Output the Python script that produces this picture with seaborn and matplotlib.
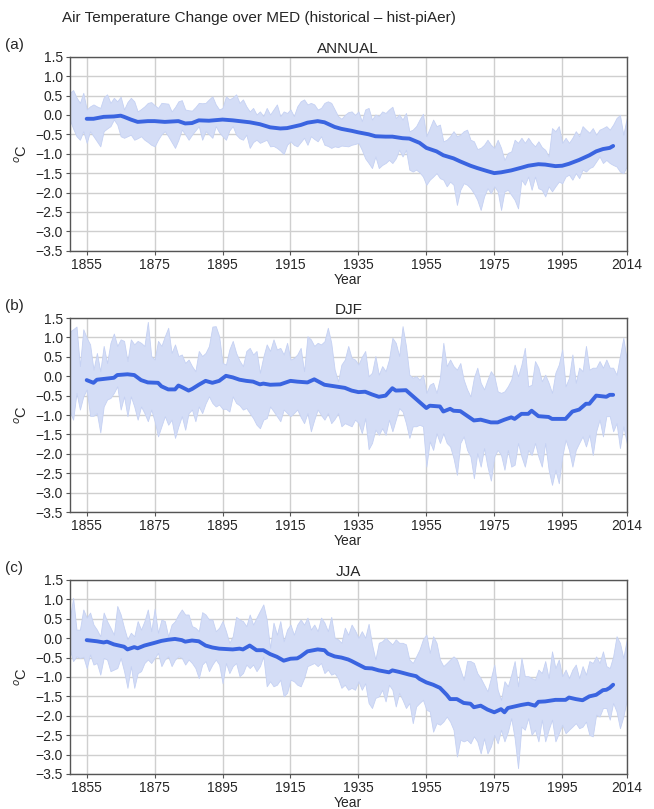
import numpy as np
import pandas as pd
import matplotlib
matplotlib.use("Agg")
import matplotlib.pyplot as plt
import seaborn as sns

# ---- data ----
band_years = np.arange(1850, 2015)

annual_upper = [
    0.57, 0.64, 0.45, 0.31, 0.57, 0.14, 0.22, 0.27, 0.22, 0.18,
    0.45, 0.53, 0.31, 0.44, 0.35, 0.47, 0.14, 0.33, 0.44, 0.35,
    0.09, 0.15, 0.22, 0.31, 0.33, 0.25, 0.18, 0.31, 0.30, 0.29,
    0.09, 0.20, 0.35, 0.38, 0.14, 0.12, 0.11, 0.20, 0.31, 0.30,
    0.31, 0.40, 0.48, 0.27, 0.14, 0.18, 0.48, 0.40, 0.45, 0.53,
    0.31, 0.40, 0.22, 0.09, 0.18, 0.01, 0.09, -0.03, 0.18, 0.01,
    0.14, 0.27, -0.03, 0.09, 0.05, 0.14, -0.03, 0.22, 0.35, 0.40,
    0.27, 0.31, 0.27, 0.14, 0.18, 0.31, 0.35, 0.31, 0.14, -0.03,
    -0.10, 0.0, 0.07, 0.09, 0.0,
    0.09, -0.16, 0.14, 0.18, -0.12, 0.01, -0.03, 0.09, 0.05, 0.14,
    0.21, -0.08, 0.01, -0.12, 0.05, -0.42, -0.38, -0.29, -0.12, 0.03,
    -0.55, -0.34, -0.12, -0.29, -0.25, -0.68, -0.64, -0.55, -0.42, -0.55,
    -0.51, -0.42, -0.38, -0.64, -0.68, -0.88, -0.85, -0.77, -0.64, -0.77,
    -0.85, -0.64, -0.85, -1.16, -0.98, -0.94, -0.64, -0.72, -0.59, -0.72,
    -0.59, -0.72, -0.81, -0.68, -0.83, -0.90, -1.07, -0.34, -0.42, -0.29,
    -0.72, -0.59, -0.72, -0.59, -0.42, -0.55, -0.29, -0.38, -0.46, -0.34,
    -0.51, -0.38, -0.34, -0.29, -0.38, -0.25, -0.08, 0.0, -0.51, -0.08,
]
annual_lower = [
    -0.12, -0.35, -0.55, -0.64, -0.42, -0.72, -0.42, -0.55, -0.68, -0.81,
    -0.42, -0.35, -0.29, -0.12, -0.25, -0.55, -0.59, -0.55, -0.51, -0.64,
    -0.60, -0.55, -0.64, -0.70, -0.77, -0.81, -0.64, -0.50, -0.42, -0.55,
    -0.70, -0.85, -0.64, -0.38, -0.50, -0.64, -0.51, -0.40, -0.29, -0.64,
    -0.42, -0.50, -0.59, -0.29, -0.45, -0.55, -0.64, -0.40, -0.29, -0.51,
    -0.60, -0.64, -0.51, -0.85, -0.70, -0.64, -0.72, -0.68, -0.64, -0.81,
    -0.80, -0.85, -0.92, -1.01, -0.77, -0.68, -0.77, -0.81, -0.70, -0.59,
    -0.77, -0.55, -0.62, -0.68, -0.55, -0.77, -0.80, -0.85, -0.81, -0.83,
    -0.79, -0.80, -0.81, -0.77, -0.75,
    -0.72, -0.90, -1.12, -1.24, -1.37, -1.07, -1.37, -1.29, -1.24, -1.16,
    -1.24, -1.12, -0.90, -1.07, -0.90, -1.41, -1.46, -1.41, -1.48, -1.59,
    -1.80, -1.67, -1.59, -1.50, -1.63, -1.67, -1.84, -1.72, -1.80, -2.32,
    -1.93, -1.76, -1.80, -1.89, -2.02, -2.19, -2.45, -2.10, -1.89, -2.02,
    -1.84, -1.97, -2.45, -1.97, -1.93, -2.06, -2.19, -2.41, -1.67, -1.80,
    -1.59, -1.93, -1.59, -1.89, -1.93, -2.10, -1.84, -1.97, -1.84, -1.72,
    -1.76, -1.59, -1.54, -1.67, -1.50, -1.63, -1.41, -1.46, -1.37, -1.33,
    -1.20, -1.07, -1.24, -1.16, -1.24, -1.29, -1.33, -1.46, -1.50, -1.33,
]
annual_line_years = [
    1855, 1857, 1860, 1863, 1865, 1866, 1868, 1870, 1873, 1875, 1878, 1880,
    1882, 1884, 1886, 1888, 1891, 1895, 1898, 1900, 1903, 1906, 1909, 1912,
    1914, 1916, 1918, 1920, 1923, 1925, 1928, 1930, 1933, 1935, 1938, 1940,
    1943, 1945, 1948, 1950, 1953, 1955, 1958, 1960, 1963, 1965, 1968, 1970,
    1973, 1975, 1977, 1980, 1983, 1985, 1988, 1990, 1993, 1995, 1997, 2000,
    2003, 2005, 2007, 2009, 2010,
]
annual_line = [
    -0.10, -0.10, -0.05, -0.04, -0.02, -0.05, -0.12, -0.18, -0.16, -0.16, -0.18, -0.17,
    -0.16, -0.22, -0.21, -0.14, -0.15, -0.12, -0.14, -0.16, -0.19, -0.24, -0.32, -0.35,
    -0.34, -0.30, -0.26, -0.20, -0.16, -0.19, -0.31, -0.36, -0.41, -0.45, -0.50, -0.55,
    -0.56, -0.56, -0.60, -0.61, -0.72, -0.85, -0.94, -1.04, -1.12, -1.20, -1.31, -1.37,
    -1.45, -1.50, -1.48, -1.43, -1.36, -1.31, -1.27, -1.28, -1.32, -1.31, -1.26, -1.16,
    -1.04, -0.94, -0.88, -0.85, -0.80,
]

djf_upper = [
    1.15, 1.21, 1.28, 0.26, 1.21, 0.99, 0.82, 0.17, 0.60, 0.13,
    0.78, 0.34, 0.86, 1.10, 0.78, 0.95, 0.91, 0.39, 0.95, 0.82,
    0.91, 0.86, 0.78, 1.40, 0.52, 0.43, 0.91, 0.78, 1.03, 1.25,
    0.60, 0.82, 0.52, 0.56, 0.34, 0.43, 0.26, 0.13, 0.65, 0.52,
    0.60, 0.78, 1.28, 1.29, 1.03, 0.34, 0.30, 0.69, 0.91, 0.60,
    0.40, 0.26, 0.65, 0.73, 0.56, 0.65, 0.09, 0.50, 0.82, 0.65,
    0.95, 0.69, 0.73, 0.56, 0.86, 0.43, 0.47, 0.56, 0.73, 0.13,
    1.03, 0.95, 0.78, 0.86, 0.82, 0.90, 1.25, 0.86, 0.17, -0.13,
    0.30, 0.43, 0.78, 0.47, 0.43,
    0.30, 0.50, 0.65, 0.0, 0.09, 0.52, 0.04, 0.26, 0.13, 0.43,
    0.99, 0.86, 0.52, 1.29, 0.78, 0.04, -0.04, 0.0, -0.09, 0.04,
    -0.43, -0.22, -0.17, -0.43, -0.04, 0.86, 0.26, 0.43, 0.26, 0.17,
    0.34, -0.09, -0.34, -0.52, -0.04, 0.22, -0.17, -0.34, -0.09, 0.13,
    0.0, -0.39, -0.43, -0.39, -0.26, -0.09, 0.30, 0.0, 0.30,
    0.73, -0.26, -0.22, 0.39, 0.22, -0.13, 0.04, -0.17, -0.43, 0.09,
    0.30, 0.69, -0.26, -0.04, 0.56, -0.17, 0.22, 0.13, 0.78, 0.17,
    0.22, 0.22, 0.39, 0.22, 0.43, 0.22, 0.22, 0.04, 0.52, 0.99, 0.43,
]
djf_lower = [
    -0.90, -1.12, -0.43, -0.86, -0.52, -0.34, -1.02, -1.02, -0.95, -1.45,
    -0.78, -0.60, -0.56, -0.43, -0.26, -0.86, -0.52, -1.03, -0.52, -0.78,
    -1.12, -0.78, -0.95, -1.16, -0.86, -1.16, -1.55, -1.29, -1.03, -1.25,
    -1.12, -1.59, -1.29, -1.03, -1.38, -0.95, -0.86, -1.16, -0.78, -0.95,
    -0.70, -0.52, -0.69, -0.78, -0.73, -0.84, -0.84, -0.91, -0.52, -0.69,
    -0.75, -0.86, -0.82, -0.95, -1.08, -1.25, -1.34, -1.12, -1.08, -0.78,
    -0.90, -1.03, -1.16, -0.86, -0.95, -1.03, -0.95, -0.86, -1.05, -1.21,
    -0.95, -1.42, -1.12, -0.86, -1.00, -1.12, -0.95, -1.21, -1.10, -0.95,
    -1.29, -1.21, -1.25, -1.29, -1.12,
    -1.20, -1.47, -1.08, -1.88, -1.72, -1.38, -1.51, -1.34, -1.51, -1.12,
    -1.42, -1.12, -0.82, -0.91, -1.21, -1.59, -1.29, -1.29, -1.25, -1.29,
    -2.33, -1.68, -1.90, -1.47, -1.72, -1.47, -1.72, -1.81, -2.11, -2.54,
    -1.72, -1.55, -1.90, -2.07, -2.63, -1.98, -2.33, -1.85, -2.33, -2.69,
    -2.07, -1.90, -2.03, -2.41, -1.90, -2.33, -2.28, -1.72, -2.07, -2.33,
    -1.90, -2.03, -1.72, -2.07, -2.33, -1.72, -2.41, -2.80, -2.41, -2.76,
    -2.07, -1.64, -1.90, -2.33, -1.90, -1.72, -1.55, -1.81, -1.51, -2.03,
    -1.42, -1.12, -1.55, -1.03, -1.03, -1.42, -1.21, -1.85, -1.29, -1.72,
]
djf_line_years = [
    1855, 1857, 1858, 1860, 1863, 1864, 1867, 1869, 1871, 1873, 1876, 1877,
    1879, 1881, 1882, 1883, 1885, 1886, 1888, 1890, 1892, 1894, 1896, 1898,
    1900, 1902, 1904, 1906, 1907, 1909, 1912, 1915, 1917, 1920, 1922, 1925,
    1928, 1931, 1933, 1935, 1937, 1939, 1941, 1943, 1945, 1946, 1949, 1952,
    1955, 1956, 1959, 1960, 1962, 1963, 1965, 1967, 1969, 1971, 1974, 1976,
    1978, 1980, 1981, 1983, 1985, 1986, 1988, 1991, 1992, 1996, 1998, 2000,
    2002, 2003, 2005, 2008, 2009, 2010,
]
djf_line = [
    -0.10, -0.17, -0.09, -0.07, -0.04, 0.03, 0.05, 0.03, -0.10, -0.16, -0.17, -0.26,
    -0.34, -0.34, -0.24, -0.28, -0.37, -0.33, -0.22, -0.12, -0.17, -0.12, 0.01, -0.03,
    -0.09, -0.12, -0.14, -0.21, -0.19, -0.22, -0.21, -0.12, -0.14, -0.16, -0.08, -0.22,
    -0.26, -0.30, -0.37, -0.41, -0.40, -0.47, -0.53, -0.50, -0.31, -0.37, -0.36, -0.59,
    -0.82, -0.76, -0.78, -0.91, -0.84, -0.89, -0.90, -1.02, -1.14, -1.12, -1.19, -1.19,
    -1.12, -1.06, -1.10, -0.97, -0.97, -0.89, -1.03, -1.05, -1.10, -1.10, -0.91, -0.86,
    -0.71, -0.71, -0.50, -0.53, -0.48, -0.48,
]

jja_upper = [
    0.48, 1.04, 0.22, 0.22, 0.74, 0.53, 0.66, 0.35, 0.22, 0.05,
    0.66, 0.44, 0.27, 0.09, 0.83, 0.61, 0.27, -0.03, 0.14, 0.05,
    0.44, 0.22, 0.44, 0.74, 0.18, 0.76, 0.14, 0.48, 0.44, 0.05,
    0.35, 0.44, 0.61, 0.74, 0.61, 0.61, 0.31, 0.27, 0.18, 0.67,
    0.61, 0.48, 0.48, 0.18, 0.27, 0.44, 0.18, -0.12, 0.05, 0.55,
    0.48, 0.44, 0.31, 0.61, 0.35, 0.53, 0.70, 0.87, 0.48, -0.25,
    0.40, 0.09, 0.44, -0.08, 0.22, 0.35, 0.09, 0.35, 0.48, 0.35,
    0.53, 0.22, 0.35, 0.18, 0.53, 0.40, 0.18, 0.55, 0.01, -0.03,
    -0.12, 0.27, 0.09, 0.35, 0.20,
    0.01, 0.18, 0.01, 0.37, -0.16, -0.55, -0.12, -0.08, 0.01, -0.08,
    -0.16, -0.03, -0.12, -0.12, -0.16, -0.55, -0.64, -0.47, -0.29, -0.03,
    0.09, -0.38, 0.05, -0.12, -0.55, -0.72, -0.64, -0.55, -0.47, -0.55,
    -0.81, -1.07, -0.59, -0.59, -0.64, -0.90, -1.03, -1.20, -1.37, -1.03,
    -0.68, -1.33, -1.59, -1.11, -1.24, -0.94, -0.59, -1.24, -0.51, -0.98,
    -0.98, -1.03, -1.07, -0.81, -0.90, -0.59, -1.03, -0.34, -0.77, -0.55,
    -0.98, -0.81, -1.03, -0.81, -0.68, -1.03, -0.72, -0.94, -0.59, -0.64,
    -0.47, -0.64, -0.34, -0.72, -0.77, -0.47, 0.05, -0.12, -0.51, -0.03,
]
jja_lower = [
    -0.29, -0.59, -0.47, -0.51, -0.48, -0.77, -0.42, -0.68, -0.64, -0.94,
    -0.51, -0.55, -0.85, -0.81, -0.77, -0.51, -0.85, -1.28, -0.72, -1.28,
    -0.90, -0.85, -0.64, -0.55, -0.64, -0.51, -0.38, -0.72, -0.55, -0.47,
    -0.72, -0.55, -0.47, -0.51, -0.68, -0.55, -0.64, -0.77, -1.03, -0.68,
    -0.59, -0.85, -0.68, -0.55, -0.68, -1.16, -0.64, -0.90, -0.72, -0.64,
    -0.98, -0.90, -0.68, -0.77, -0.68, -0.85, -0.72, -0.47, -1.24, -1.11,
    -1.24, -1.20, -1.07, -1.50, -1.41, -1.07, -1.11, -1.20, -1.24, -1.03,
    -0.72, -0.68, -0.64, -0.72, -0.64, -0.90, -0.81, -0.94, -0.90, -1.03,
    -1.28, -1.20, -1.33, -1.28, -1.33,
    -1.11, -1.33, -1.16, -1.67, -1.80, -1.54, -1.50, -1.33, -1.63, -1.20,
    -1.33, -1.76, -1.41, -1.59, -1.80, -1.67, -2.19, -1.76, -1.67, -1.59,
    -1.84, -1.89, -2.41, -2.19, -2.23, -2.15, -2.02, -2.15, -2.36, -3.05,
    -2.62, -2.66, -2.62, -2.71, -2.53, -2.66, -2.97, -2.58, -2.97, -2.79,
    -2.49, -2.71, -2.36, -2.66, -2.41, -2.06, -2.58, -3.35, -2.28, -2.36,
    -2.06, -2.49, -2.36, -2.66, -2.10, -2.66, -2.36, -2.10, -2.66, -2.45,
    -2.23, -2.45, -2.36, -2.28, -2.19, -2.32, -2.28, -2.15, -2.49, -2.53,
    -1.97, -2.02, -1.80, -1.80, -2.10, -1.67, -1.89, -2.32, -2.02, -1.59,
]
jja_line_years = [
    1855, 1858, 1860, 1861, 1863, 1866, 1867, 1869, 1870, 1872, 1875, 1877,
    1879, 1881, 1883, 1884, 1886, 1888, 1890, 1892, 1894, 1896, 1898, 1900,
    1901, 1903, 1905, 1907, 1909, 1911, 1913, 1915, 1917, 1918, 1920, 1923,
    1925, 1926, 1928, 1930, 1932, 1933, 1935, 1937, 1939, 1941, 1944, 1945,
    1947, 1950, 1952, 1953, 1955, 1957, 1959, 1961, 1962, 1964, 1966, 1968,
    1969, 1971, 1973, 1975, 1977, 1978, 1979, 1981, 1983, 1985, 1987, 1988,
    1990, 1993, 1996, 1997, 1999, 2001, 2003, 2005, 2007, 2008, 2009, 2010,
]
jja_line = [
    -0.05, -0.08, -0.11, -0.09, -0.16, -0.22, -0.29, -0.23, -0.26, -0.19, -0.12, -0.07,
    -0.04, -0.02, -0.05, -0.09, -0.06, -0.08, -0.19, -0.24, -0.27, -0.28, -0.29, -0.27,
    -0.29, -0.19, -0.31, -0.31, -0.41, -0.48, -0.58, -0.53, -0.52, -0.47, -0.34, -0.29,
    -0.31, -0.40, -0.47, -0.50, -0.55, -0.59, -0.68, -0.77, -0.78, -0.83, -0.88, -0.83,
    -0.87, -0.94, -0.98, -1.05, -1.14, -1.20, -1.28, -1.46, -1.57, -1.57, -1.67, -1.69,
    -1.78, -1.74, -1.84, -1.91, -1.83, -1.91, -1.80, -1.76, -1.72, -1.69, -1.74, -1.64,
    -1.63, -1.59, -1.59, -1.53, -1.57, -1.60, -1.50, -1.46, -1.34, -1.33, -1.28, -1.20,
]

panels = [
    ("(a)", "ANNUAL", annual_upper, annual_lower, annual_line_years, annual_line),
    ("(b)", "DJF", djf_upper, djf_lower, djf_line_years, djf_line),
    ("(c)", "JJA", jja_upper, jja_lower, jja_line_years, jja_line),
]

x_ticks = [1855, 1875, 1895, 1915, 1935, 1955, 1975, 1995, 2014]
y_ticks = np.arange(-3.5, 1.51, 0.5)

sns.set_style("white")
plt.rcParams["font.family"] = ["Liberation Sans", "DejaVu Sans"]

fig = plt.figure(figsize=(6.54, 8.09), dpi=100)
fig.text(0.095, 0.978, "Air Temperature Change over MED (historical \u2013 hist-piAer)",
         fontsize=11, ha="left", va="center")

bottoms = [0.6901, 0.3671, 0.0433]
band_color = "#d4ddf6"
line_color = "#3a64e0"

for (tag, title, up, lo, lyears, lvals), b in zip(panels, bottoms):
    ax = fig.add_axes([0.1066, b, 0.8517, 0.2398])
    ax.fill_between(band_years, lo, up, color=band_color, edgecolor="#c5d1f3",
                    linewidth=0.6, zorder=2)
    df = pd.DataFrame({"year": lyears, "value": lvals})
    sns.lineplot(data=df, x="year", y="value", ax=ax, color=line_color,
                 linewidth=2.8, zorder=3)
    ax.set_xlim(1850, 2014)
    ax.set_ylim(-3.5, 1.5)
    ax.set_xticks(x_ticks)
    ax.set_yticks(y_ticks)
    ax.set_yticklabels([f"{v:.1f}".replace("-", "\u2212") for v in y_ticks])
    ax.grid(True, color="#cfcfcf", linewidth=1.0, zorder=0)
    ax.set_axisbelow(True)
    for s in ax.spines.values():
        s.set_color("#555555")
        s.set_linewidth(1.0)
    ax.tick_params(axis="both", labelsize=10, length=3, width=0.8,
                   color="#555555", pad=2, bottom=True, left=True)
    ax.set_xlabel("Year", fontsize=10, labelpad=1)
    ax.set_ylabel("$^{o}$C", fontsize=10.5, labelpad=4)
    ax.set_title(title, fontsize=11, pad=3)
    ax.text(-0.1, 1.06, tag, transform=ax.transAxes, fontsize=11,
            ha="center", va="center")

fig.savefig("out.png", dpi=100)
